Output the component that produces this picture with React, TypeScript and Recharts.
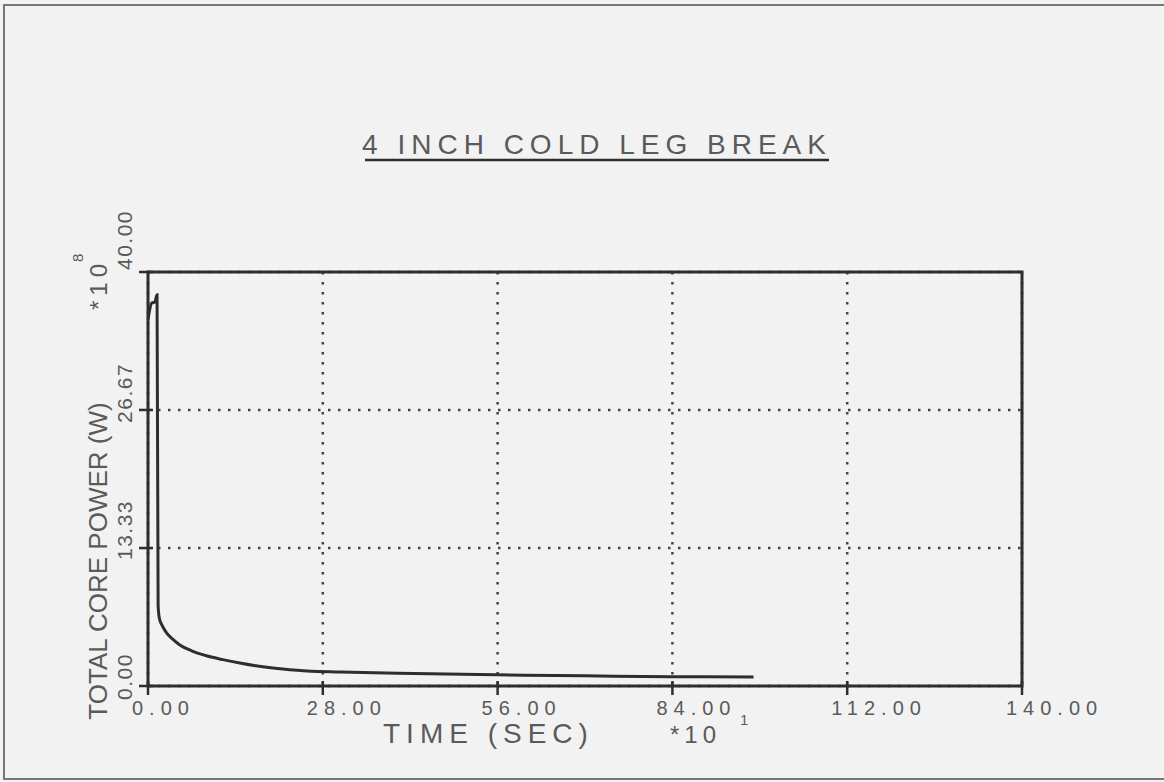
import { LineChart, Line, XAxis, YAxis, CartesianGrid, ReferenceArea, Customized } from 'recharts'

// time in units of 10 s, power in units of 1e8 W
const TIME = [0, 0.6, 1.1, 1.45, 1.62, 1.8, 2.3, 3.0, 4.0, 5.1, 7.0, 9.5, 12, 14.7, 17, 20, 25.5, 30.8, 40, 56, 70, 84, 97]
const POWER = [35.4, 37.0, 37.1, 37.8, 7.8, 6.6, 5.8, 5.1, 4.5, 3.96, 3.4, 2.9, 2.55, 2.22, 1.98, 1.74, 1.45, 1.35, 1.22, 1.08, 0.98, 0.9, 0.88]

const X_TICKS = [0, 28, 56, 84, 112, 140]
const X_TICK_LABELS = ['0.00', '28.00', '56.00', '84.00', '112.00', '140.00']
const Y_TICKS = [0, 13.33, 26.67, 40]
const Y_TICK_LABELS = ['0.00', '13.33', '26.67', '40.00']

const TITLE = '4 INCH COLD LEG BREAK'
const X_LABEL = 'TIME (SEC)'
const Y_LABEL = 'TOTAL CORE POWER (W)'

const data = TIME.map((t, i) => ({ t, p: POWER[i] }))

const INK = '#2e2e2e'
const TEXT = '#5a5a5a'
const FONT = '"Liberation Sans", Arial, sans-serif'
const Y_LABEL_SHIFT = [14, 12, 13, -2]

function XTick(props: any) {
  const { x, y, payload } = props
  const i = X_TICKS.indexOf(payload.value)
  return (
    <g>
      <line x1={x} y1={y - 5} x2={x} y2={y + 9} stroke={INK} strokeWidth={2.5} />
      <text x={x - 16} y={y + 29} fontSize={20} letterSpacing={6} fill={TEXT} fontFamily={FONT}>
        {X_TICK_LABELS[i]}
      </text>
    </g>
  )
}

function YTick(props: any) {
  const { x, y, payload } = props
  const i = Y_TICKS.indexOf(payload.value)
  return (
    <g>
      <line x1={x - 9} y1={y} x2={x + 5} y2={y} stroke={INK} strokeWidth={2.5} />
      <text
        transform={`translate(${x - 16},${y + Y_LABEL_SHIFT[i]}) rotate(-90)`}
        fontSize={21}
        letterSpacing={1.5}
        fill={TEXT}
        fontFamily={FONT}
      >
        {Y_TICK_LABELS[i]}
      </text>
    </g>
  )
}

function Labels() {
  return (
    <g fontFamily={FONT} fill={TEXT}>
      <text x={597} y={154} textAnchor="middle" fontSize={28} letterSpacing={6}>{TITLE}</text>
      <line x1={365} y1={160} x2={829} y2={160} stroke={INK} strokeWidth={2.5} />

      <text transform="translate(107,561) rotate(-90)" textAnchor="middle" fontSize={26}>{Y_LABEL}</text>
      <text transform="translate(107,310) rotate(-90)" fontSize={24} letterSpacing={5}>*10</text>
      <text transform="translate(83,262) rotate(-90)" fontSize={15}>8</text>

      <text x={383} y={743} fontSize={28} letterSpacing={6}>{X_LABEL}</text>
      <text x={670} y={743} fontSize={24} letterSpacing={5}>*10</text>
      <text x={740} y={725} fontSize={15}>1</text>
    </g>
  )
}

export default function App() {
  return (
    <div style={{ position: 'absolute', left: 0, top: 0, width: 1164, height: 782, background: '#f2f2f2', overflow: 'hidden' }}>
      <div style={{ position: 'absolute', left: 3, top: 4, width: 1180, height: 772, border: '2px solid #777' }} />
      <LineChart width={1164} height={782} data={data} margin={{ top: 272, right: 142, bottom: 56, left: 88 }}>
        <CartesianGrid stroke="#444" strokeWidth={2.5} strokeDasharray="2.5 7.5" />
        <XAxis
          type="number"
          dataKey="t"
          domain={[0, 140]}
          ticks={X_TICKS}
          height={40}
          axisLine={false}
          tickLine={false}
          tickSize={0}
          tickMargin={0}
          tick={<XTick />}
        />
        <YAxis
          type="number"
          domain={[0, 40]}
          ticks={Y_TICKS}
          width={60}
          axisLine={false}
          tickLine={false}
          tickSize={0}
          tickMargin={0}
          tick={<YTick />}
        />
        <ReferenceArea x1={0} x2={140} y1={0} y2={40} fill="none" stroke={INK} strokeWidth={3} />
        <Line
          type="monotone"
          dataKey="p"
          stroke={INK}
          strokeWidth={3}
          dot={false}
          isAnimationActive={false}
        />
        <Customized component={<Labels />} />
      </LineChart>
    </div>
  )
}
